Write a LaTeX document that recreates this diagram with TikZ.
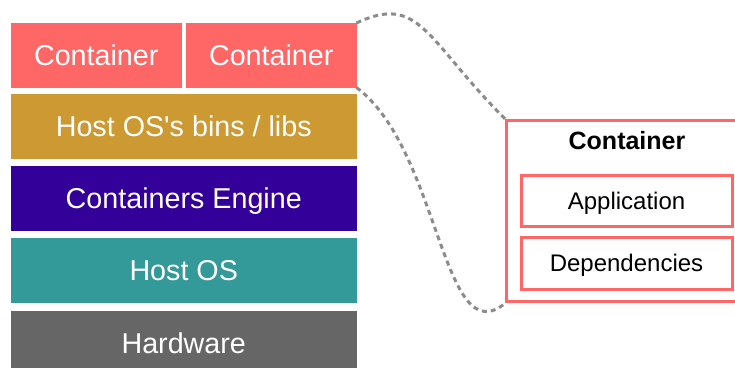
\documentclass[tikz,border=0pt]{standalone}
\usepackage{fontspec}
\setmainfont{Liberation Sans}
\definecolor{salmon}{HTML}{FF6666}
\definecolor{gold}{HTML}{CC9933}
\definecolor{indigo}{HTML}{330099}
\definecolor{teal}{HTML}{339999}
\definecolor{hwgray}{HTML}{666666}
\definecolor{linkgray}{HTML}{8C8C8C}
\begin{document}
\begin{tikzpicture}[x=1pt,y=-1pt,
  layer/.style={rectangle, anchor=north west, inner sep=0pt, outer sep=0pt,
    text=white, font=\fontsize{28.7}{34}\selectfont,
    text height=20.5pt, text depth=0pt, minimum height=64.5pt},
  wide/.style={layer, minimum width=345.5pt},
  half/.style={layer, minimum width=170.5pt},
  partbox/.style={rectangle, draw=salmon, line width=3pt, inner sep=0pt,
    font=\fontsize{24}{29}\selectfont, text height=17.2pt, text depth=0pt,
    minimum width=211pt},
  link/.style={draw=linkgray, line width=3pt, dash pattern=on 5pt off 4pt}
]
\clip (0,0) rectangle (735,367);

% stack of layers
\node[half, fill=salmon] (c1) at (11,23) {Container};
\node[half, fill=salmon] (c2) at (186,23) {Container};
\node[wide, fill=gold] (bins) at (11,94) {Host OS\textquotesingle s bins / libs};
\node[wide, fill=indigo] (engine) at (11,166) {Containers Engine};
\node[wide, fill=teal] (host) at (11,238) {Host OS};
\node[wide, fill=hwgray] (hw) at (11,311) {Hardware};

% detail view of one container
\node[rectangle, draw=salmon, line width=3pt, anchor=north west, inner sep=0pt,
  minimum width=230.3pt, minimum height=181.2pt] (detail) at (505.2,119) {};
\node[font=\fontsize{25}{30}\selectfont\bfseries, inner sep=0pt,
  text height=17.9pt, text depth=0pt] (title) at (627,140.5) {Container};
\node[partbox, minimum height=51pt] (app) at (626.5,201) {Application};
\node[partbox, minimum height=52.3pt] (deps) at (626.5,263.35) {Dependencies};

% zoom-in links
\draw[link] (c2.north east) .. controls +(63.5,-30) and +(-79.2,-79) .. (detail.north west);
\draw[link] (c2.south east) .. controls +(83.5,62.5) and +(-63,52) .. (detail.south west);
\end{tikzpicture}
\end{document}
